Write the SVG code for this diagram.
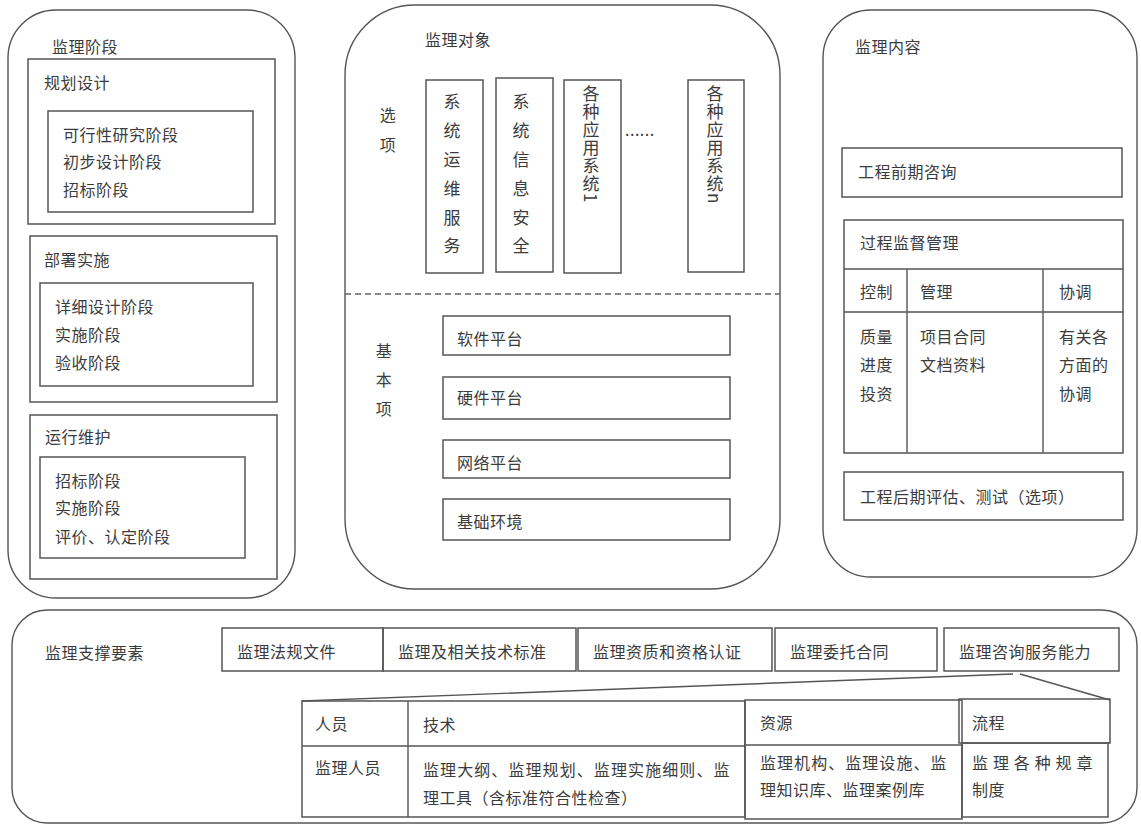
<svg xmlns="http://www.w3.org/2000/svg" width="1141" height="826" viewBox="0 0 1141 826">
<style>
.p{fill:none;stroke:#555;stroke-width:1.4}
.b{fill:none;stroke:#555;stroke-width:1.5}
.l{stroke:#555;stroke-width:1.4;fill:none}
.d{stroke:#666;stroke-width:1.4;stroke-dasharray:6 4;fill:none}
text{font-family:"Noto Sans CJK SC","Noto Sans",sans-serif;font-size:16px;fill:#3c3c3c;letter-spacing:0.5px}
.v{font-size:17px;text-anchor:middle;letter-spacing:0}
.vt{font-size:17px;writing-mode:vertical-rl;letter-spacing:1px}
.c{text-anchor:middle}
</style>
<rect width="1141" height="826" fill="#fff"/>

<g id="stage">
<rect class="p" x="8" y="10" width="287" height="588" rx="48"/>
<text x="52" y="53">监理阶段</text>
<g id="plan">
<rect class="b" x="28" y="59" width="247" height="165"/>
<text x="44" y="89">规划设计</text>
<rect class="b" x="48" y="111" width="205" height="101"/>
<text x="63" y="141">可行性研究阶段</text>
<text x="63" y="168">初步设计阶段</text>
<text x="63" y="196">招标阶段</text>
</g>
<g id="deploy">
<rect class="b" x="30" y="236" width="247" height="166"/>
<text x="44" y="266">部署实施</text>
<rect class="b" x="40" y="283" width="213" height="103"/>
<text x="55" y="313">详细设计阶段</text>
<text x="55" y="341">实施阶段</text>
<text x="55" y="369">验收阶段</text>
</g>
<g id="operate">
<rect class="b" x="30" y="415" width="247" height="164"/>
<text x="45" y="443">运行维护</text>
<rect class="b" x="40" y="457" width="205" height="101"/>
<text x="55" y="487">招标阶段</text>
<text x="55" y="514">实施阶段</text>
<text x="55" y="543">评价、认定阶段</text>
</g>
</g>

<g id="object">
<rect class="p" x="345" y="5" width="435" height="584" rx="70"/>
<text x="425" y="46">监理对象</text>
<text class="c" x="388" y="121">选</text>
<text class="c" x="388" y="151">项</text>
<line class="d" x1="345" y1="294" x2="780" y2="294"/>
<g id="opt1">
<rect class="b" x="426" y="80" width="57" height="193"/>
<text class="v" x="452" y="108">系</text><text class="v" x="452" y="137">统</text><text class="v" x="452" y="166">运</text><text class="v" x="452" y="195">维</text><text class="v" x="452" y="224">服</text><text class="v" x="452" y="252">务</text>
</g>
<g id="opt2">
<rect class="b" x="496" y="78" width="57" height="194"/>
<text class="v" x="521" y="108">系</text><text class="v" x="521" y="137">统</text><text class="v" x="521" y="166">信</text><text class="v" x="521" y="195">息</text><text class="v" x="521" y="224">安</text><text class="v" x="521" y="252">全</text>
</g>
<g id="opt3">
<rect class="b" x="564" y="80" width="57" height="193"/>
<text class="vt" x="591" y="85">各种应用系统1</text>
</g>
<text x="625" y="136">......</text>
<g id="opt4">
<rect class="b" x="688" y="80" width="56" height="192"/>
<text class="vt" x="715" y="85">各种应用系统n</text>
</g>
<text class="c" x="384" y="357">基</text>
<text class="c" x="384" y="386">本</text>
<text class="c" x="384" y="415">项</text>
<g id="soft"><rect class="b" x="443" y="316" width="287" height="39"/><text x="457" y="345">软件平台</text></g>
<g id="hard"><rect class="b" x="443" y="377" width="287" height="42"/><text x="457" y="404">硬件平台</text></g>
<g id="net"><rect class="b" x="443" y="440" width="287" height="38"/><text x="457" y="469">网络平台</text></g>
<g id="env"><rect class="b" x="443" y="499" width="287" height="41"/><text x="457" y="528">基础环境</text></g>
</g>

<g id="content">
<rect class="p" x="823" y="10" width="314" height="567" rx="48"/>
<text x="855" y="53">监理内容</text>
<g id="pre"><rect class="b" x="842" y="148" width="280" height="49"/><text x="858" y="178">工程前期咨询</text></g>
<g id="process">
<rect class="b" x="844" y="220" width="279" height="233"/>
<line class="l" x1="844" y1="269" x2="1123" y2="269"/>
<line class="b" x1="844" y1="312" x2="1123" y2="312"/>
<line class="l" x1="907" y1="269" x2="907" y2="453"/>
<line class="l" x1="1043" y1="269" x2="1043" y2="453"/>
<text x="860" y="249">过程监督管理</text>
<text x="860" y="298">控制</text>
<text x="920" y="298">管理</text>
<text x="1059" y="298">协调</text>
<text x="860" y="343">质量</text><text x="860" y="371">进度</text><text x="860" y="400">投资</text>
<text x="920" y="343">项目合同</text><text x="920" y="371">文档资料</text>
<text x="1059" y="343">有关各</text><text x="1059" y="371">方面的</text><text x="1059" y="400">协调</text>
</g>
<g id="post"><rect class="b" x="844" y="472" width="279" height="48"/><text x="860" y="503">工程后期评估、测试（选项）</text></g>
</g>

<g id="support">
<rect class="p" x="12" y="610" width="1125" height="213" rx="35"/>
<text x="45" y="659">监理支撑要素</text>
<g id="s1"><rect class="b" x="222" y="628" width="161" height="43"/><text x="237" y="658">监理法规文件</text></g>
<g id="s2"><rect class="b" x="383" y="628" width="193" height="43"/><text x="398" y="658">监理及相关技术标准</text></g>
<g id="s3"><rect class="b" x="578" y="628" width="194" height="43"/><text x="593" y="658">监理资质和资格认证</text></g>
<g id="s4"><rect class="b" x="775" y="628" width="162" height="43"/><text x="790" y="658">监理委托合同</text></g>
<g id="s5"><rect class="b" x="944" y="628" width="175" height="43"/><text x="959" y="658">监理咨询服务能力</text></g>
<g id="ability">
<rect class="b" x="302" y="701" width="443" height="116"/>
<line class="l" x1="408" y1="701" x2="408" y2="817"/>
<line class="b" x1="302" y1="746" x2="745" y2="746"/>
<text x="315" y="730">人员</text>
<text x="315" y="774">监理人员</text>
<text x="423" y="731">技术</text>
<text x="423" y="776" textLength="307" lengthAdjust="spacing">监理大纲、监理规划、监理实施细则、监</text>
<text x="423" y="804">理工具（含标准符合性检查）</text>
<rect class="b" x="745" y="700" width="217" height="119"/>
<line class="b" x1="745" y1="745" x2="962" y2="745"/>
<text x="760" y="729">资源</text>
<text x="760" y="769" textLength="187" lengthAdjust="spacing">监理机构、监理设施、监</text>
<text x="760" y="796">理知识库、监理案例库</text>
<rect class="b" x="959" y="699" width="151" height="44"/>
<rect class="b" x="962" y="743" width="146" height="74"/>
<text x="972" y="729">流程</text>
<text x="972" y="769" textLength="121" lengthAdjust="spacing">监理各种规章</text>
<text x="972" y="796">制度</text>
</g>
</g>

<g id="connectors">
<line class="l" x1="302" y1="701" x2="1013" y2="674"/>
<line class="l" x1="1020" y1="674" x2="1110" y2="700"/>
</g>
</svg>
